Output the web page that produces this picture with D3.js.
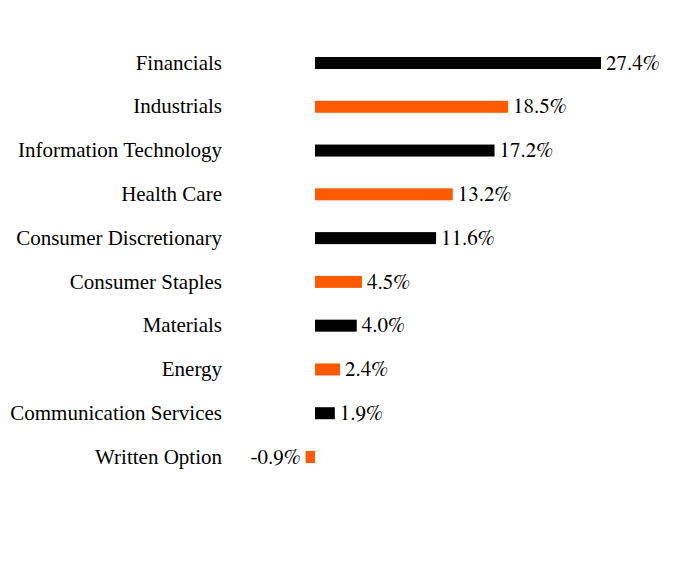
<!DOCTYPE html>
<html>
<head>
<meta charset="utf-8">
<script src="https://cdn.jsdelivr.net/npm/d3@7"></script>
<style>
  body { margin: 0; background: #fff; }
</style>
</head>
<body>
<svg id="chart" width="696" height="564"></svg>
<script>
const sectors = ["Financials", "Industrials", "Information Technology", "Health Care",
  "Consumer Discretionary", "Consumer Staples", "Materials", "Energy",
  "Communication Services", "Written Option"];
const weights = [27.4, 18.5, 17.2, 13.2, 11.6, 4.5, 4.0, 2.4, 1.9, -0.9];
const barColors = ["#000000", "#ff5a00"];

const labelFont = "'Liberation Serif', 'FreeSerif', serif";
// digits come out sans in Liberation Serif here, FreeSerif keeps them serif
const valueFont = "'FreeSerif', 'Liberation Serif', serif";
const fontSize = "21px";

const svg = d3.select('#chart');
const data = sectors.map((s, i) => ({ sector: s, value: weights[i] }));

// zero line sits at ~315px, 27.4% reaches ~601px
const x = d3.scaleLinear()
    .domain([0, 27.4])
    .range([315, 601]);

const y = d3.scalePoint()
    .domain(sectors)
    .range([63, 457]);

const barH = 12;

svg.selectAll("rect.bar")
  .data(data)
  .join("rect")
  .attr("class", "bar")
  .attr("x", d => x(Math.min(0, d.value)))
  .attr("width", d => Math.abs(x(d.value) - x(0)))
  .attr("y", d => y(d.sector) - barH / 2)
  .attr("height", barH)
  .attr("fill", (d, i) => barColors[i % 2]);

// category labels
svg.selectAll("text.cat")
  .data(data)
  .join("text")
  .attr("class", "cat")
  .attr("x", 222)
  .attr("y", d => y(d.sector))
  .attr("dy", "0.32em")
  .attr("text-anchor", "end")
  .attr("font-family", labelFont)
  .attr("font-size", fontSize)
  .text(d => d.sector);

// value labels
svg.selectAll("text.val")
  .data(data)
  .join("text")
  .attr("class", "val")
  .attr("x", d => d.value >= 0 ? x(d.value) + 5 : x(d.value) - 5)
  .attr("y", d => y(d.sector))
  .attr("dy", "0.32em")
  .attr("text-anchor", d => d.value >= 0 ? "start" : "end")
  .attr("font-family", valueFont)
  .attr("font-size", fontSize)
  .text(d => d.value.toFixed(1) + "%");
</script>
</body>
</html>
